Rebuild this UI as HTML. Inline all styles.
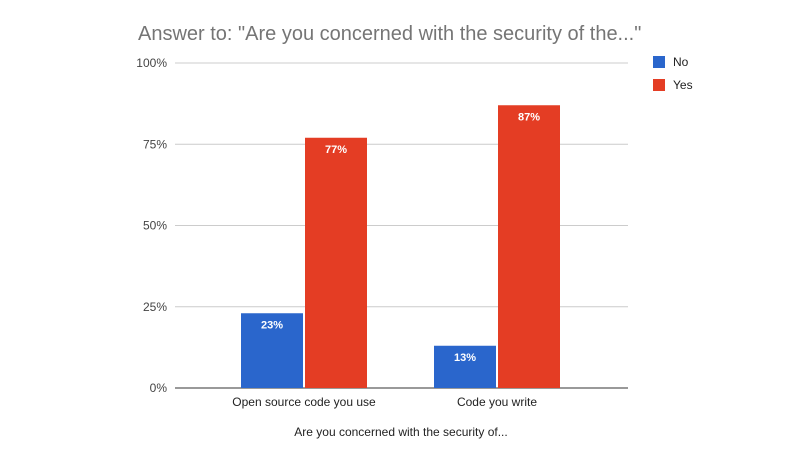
<!DOCTYPE html>
<html><head><meta charset="utf-8"><style>
body{margin:0;background:#fff;width:802px;height:461px;overflow:hidden;font-family:"Liberation Sans",Arial,sans-serif}
</style></head><body>
<svg id="chart" width="802" height="461" xmlns="http://www.w3.org/2000/svg" font-family="Liberation Sans, Arial, sans-serif">
<rect width="802" height="461" fill="#fff"/>
<text x="138" y="40" font-size="20" fill="#757575">Answer to: "Are you concerned with the security of the..."</text>
<g id="grid"></g>
<g id="bars"></g>
<rect x="653" y="56" width="12" height="12" fill="#2a66cc"/>
<text x="673" y="66" font-size="12" fill="#222">No</text>
<rect x="653" y="79" width="12" height="12" fill="#e43d24"/>
<text x="673" y="89" font-size="12" fill="#222">Yes</text>
<text x="401" y="436" font-size="12" fill="#222" text-anchor="middle">Are you concerned with the security of...</text>
</svg>
<script>
const categories=["Open source code you use","Code you write"];
const noValues=[23,13];
const yesValues=[77,87];
const tickValues=[0,25,50,75,100];
const tickLabels=["0%","25%","50%","75%","100%"];
const NS="http://www.w3.org/2000/svg";
const y0=388,y100=63,xL=175,xR=628,bandStart=207.5,band=193;
function yScale(v){return y0-(y0-y100)*v/100;}
function xCenter(i){return bandStart+band*i+band/2;}
function mk(tag,attrs,parent){const e=document.createElementNS(NS,tag);for(const k in attrs)e.setAttribute(k,attrs[k]);parent.appendChild(e);return e;}
const grid=document.getElementById('grid'),bars=document.getElementById('bars');
tickValues.forEach((v,i)=>{
  const l=mk('line',{x1:xL,x2:xR,y1:yScale(v),y2:yScale(v),stroke:i===0?'#333':'#ccc','stroke-width':1},grid);
  
  
  const t=mk('text',{x:167,y:yScale(v)+4,'font-size':12,fill:'#444','text-anchor':'end'},grid);
  t.textContent=tickLabels[i];
  
  
});
const bw=62;
categories.forEach((c,i)=>{
  const cx=xCenter(i);
  [[noValues[i],'#2a66cc',cx-bw-1,'no'],[yesValues[i],'#e43d24',cx+1,'yes']].forEach(([v,col,x,s])=>{
    const r=mk('rect',{x:x,y:yScale(v),width:bw,height:y0-yScale(v),fill:col},bars);
    
    
    const t=mk('text',{x:x+bw/2,y:yScale(v)+15,'font-size':11,'font-weight':'bold',fill:'#fff','text-anchor':'middle'},bars);
    t.textContent=v+'%';
    
    
  });
  const t=mk('text',{x:cx,y:406,'font-size':12,fill:'#222','text-anchor':'middle'},bars);
  t.textContent=c;
  
  
});
</script>
</body></html>
